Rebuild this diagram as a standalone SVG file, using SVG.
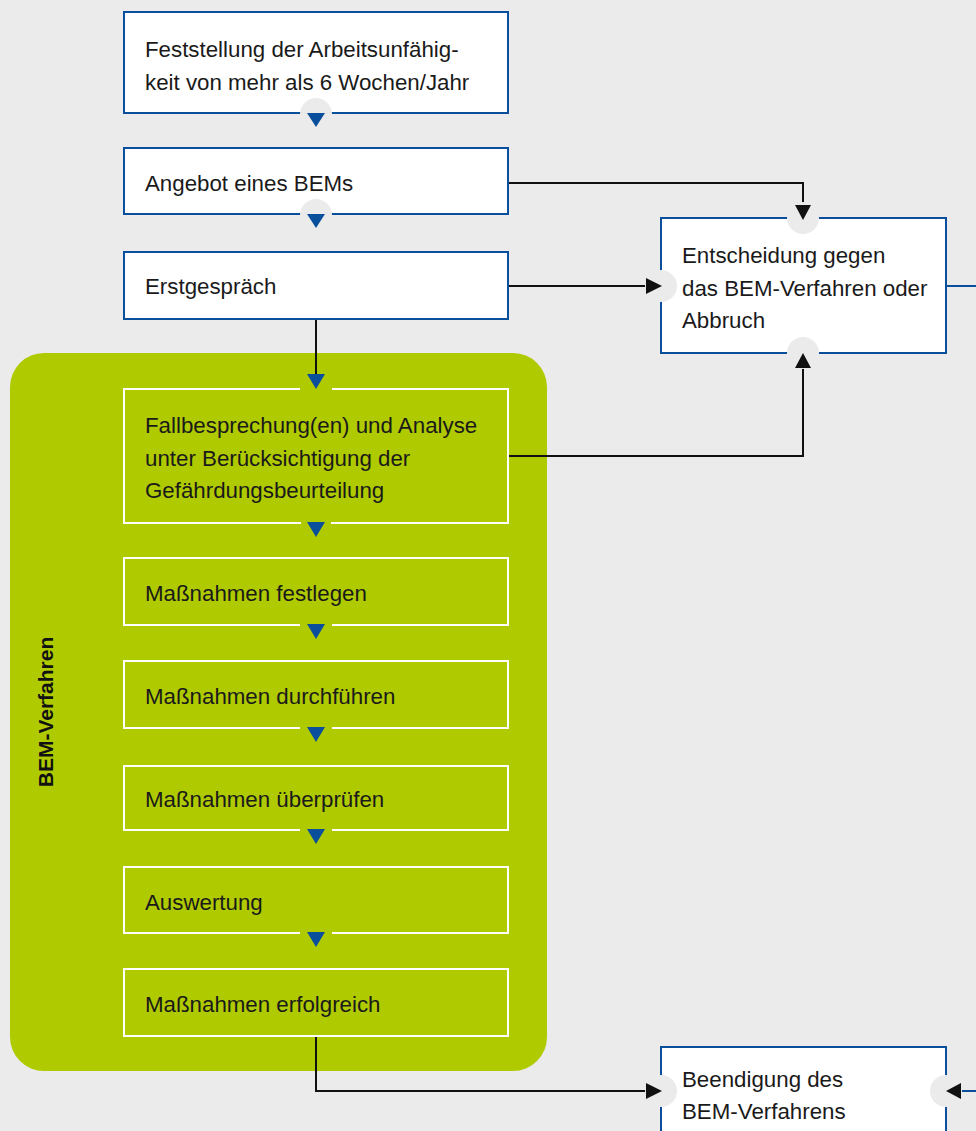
<svg xmlns="http://www.w3.org/2000/svg" width="976" height="1131" viewBox="0 0 976 1131">
<defs>
<style>
.bg{fill:#ebebeb}
.wbox{fill:#ffffff;stroke:#0a4f9b;stroke-width:2}
.gbox{fill:none;stroke:#ffffff;stroke-width:2}
.notch{fill:#ebebeb}
.tri{fill:#0a4f9b}
.t{font-family:"Liberation Sans",Arial,sans-serif;font-size:22.3px;fill:#1a1a1a}
.lbl{font-family:"Liberation Sans",Arial,sans-serif;font-size:21px;font-weight:bold;fill:#111}
.line{fill:none;stroke:#111;stroke-width:2}
.bline{fill:none;stroke:#0a4f9b;stroke-width:2}
.ah{fill:#111}
</style>
</defs>
<rect class="bg" x="0" y="0" width="976" height="1131"/>

<g id="group-bem">
<rect x="10" y="353" width="537" height="718" rx="34" fill="#b0ca00"/>
<text class="lbl" transform="translate(53,712) rotate(-90)" text-anchor="middle">BEM-Verfahren</text>
</g>

<g id="connectors">
<path class="line" d="M508,183 H803 V206"/>
<path class="line" d="M508,286 H648"/>
<path class="line" d="M316,319 V376"/>
<path class="line" d="M508,456 H803 V366"/>
<path class="bline" d="M946,286 H976"/>
<path class="line" d="M316,1036 V1091 H648"/>
<path class="bline" d="M976,1091 H958"/>
</g>

<g id="n1">
<rect class="wbox" x="124" y="12" width="384" height="101"/>
<circle class="notch" cx="316" cy="114" r="16"/>
<path class="tri" d="M307,113 L325,113 L316,127 Z"/>
<text class="t" x="145" y="57">Feststellung der Arbeitsunfähig-</text>
<text class="t" x="145" y="90">keit von mehr als 6 Wochen/Jahr</text>
</g>

<g id="n2">
<rect class="wbox" x="124" y="148" width="384" height="66"/>
<circle class="notch" cx="316" cy="215" r="16"/>
<path class="tri" d="M307,214 L325,214 L316,228 Z"/>
<text class="t" x="145" y="191">Angebot eines BEMs</text>
</g>

<g id="n3">
<rect class="wbox" x="124" y="252" width="384" height="67"/>
<text class="t" x="145" y="294">Erstgespräch</text>
</g>

<g id="n4">
<rect class="wbox" x="661" y="218" width="285" height="135"/>
<circle class="notch" cx="803" cy="218" r="16"/>
<circle class="notch" cx="803" cy="353" r="16"/>
<circle class="notch" cx="661" cy="286" r="16"/>
<path class="ah" d="M795,205 L811,205 L803,220 Z"/>
<path class="ah" d="M795,368 L811,368 L803,353 Z"/>
<path class="ah" d="M646,278 L646,294 L662,286 Z"/>
<text class="t" x="682" y="263">Entscheidung gegen</text>
<text class="t" x="682" y="296">das BEM-Verfahren oder</text>
<text class="t" x="682" y="328">Abbruch</text>
</g>

<g id="n5">
<path class="gbox" d="M300,389 H124 V523 H508 V389 H332"/>
<path class="tri" d="M307,374 L325,374 L316,389 Z"/>
<rect x="301" y="521" width="30" height="4" fill="#b0ca00"/>
<path class="tri" d="M307,522 L325,522 L316,537 Z"/>
<text class="t" x="145" y="433">Fallbesprechung(en) und Analyse</text>
<text class="t" x="145" y="466">unter Berücksichtigung der</text>
<text class="t" x="145" y="498">Gefährdungsbeurteilung</text>
</g>

<g id="n6">
<path class="gbox" d="M300,625 H124 V558 H508 V625 H332"/>
<path class="tri" d="M307,624 L325,624 L316,639 Z"/>
<text class="t" x="145" y="601">Maßnahmen festlegen</text>
</g>

<g id="n7">
<path class="gbox" d="M300,728 H124 V661 H508 V728 H332"/>
<path class="tri" d="M307,727 L325,727 L316,742 Z"/>
<text class="t" x="145" y="704">Maßnahmen durchführen</text>
</g>

<g id="n8">
<path class="gbox" d="M300,830 H124 V766 H508 V830 H332"/>
<path class="tri" d="M307,829 L325,829 L316,844 Z"/>
<text class="t" x="145" y="807">Maßnahmen überprüfen</text>
</g>

<g id="n9">
<path class="gbox" d="M300,933 H124 V867 H508 V933 H332"/>
<path class="tri" d="M307,932 L325,932 L316,947 Z"/>
<text class="t" x="145" y="910">Auswertung</text>
</g>

<g id="n10">
<rect class="gbox" x="124" y="969" width="384" height="67"/>
<text class="t" x="145" y="1012">Maßnahmen erfolgreich</text>
</g>

<g id="n11">
<rect class="wbox" x="661" y="1047" width="285" height="100"/>
<circle class="notch" cx="661" cy="1091" r="16"/>
<circle class="notch" cx="946" cy="1091" r="16"/>
<path class="ah" d="M646,1083 L646,1099 L662,1091 Z"/>
<path class="ah" d="M961,1083 L961,1099 L946,1091 Z"/>
<text class="t" x="682" y="1087">Beendigung des</text>
<text class="t" x="682" y="1119">BEM-Verfahrens</text>
</g>
</svg>
